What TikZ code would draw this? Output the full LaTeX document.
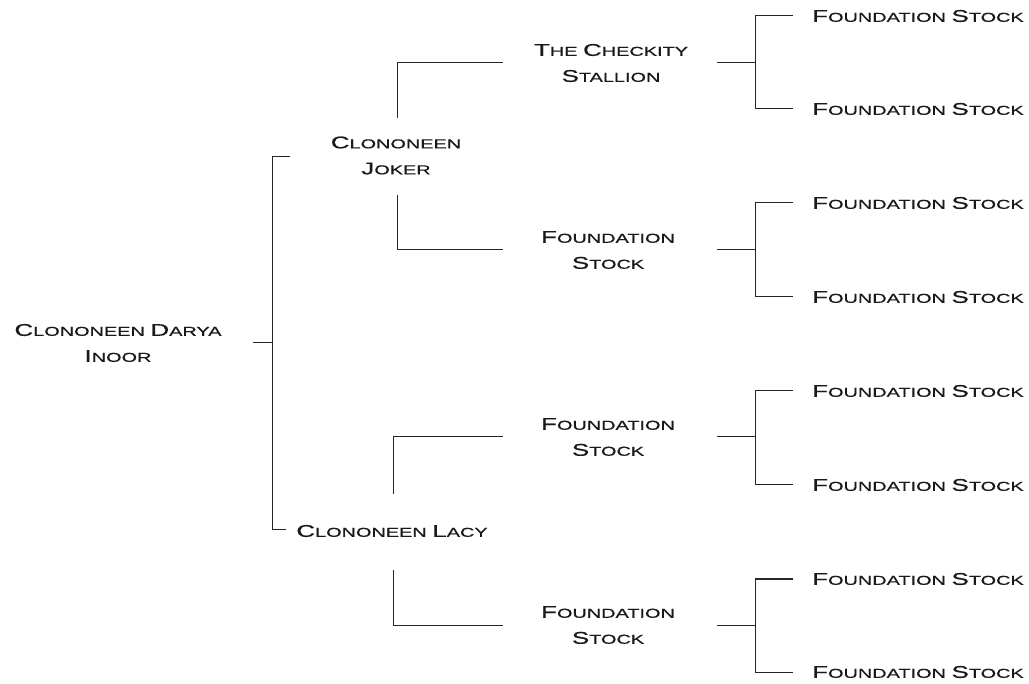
\documentclass[tikz,border=0pt]{standalone}
\usepackage{fontspec}
\newfontfamily\cpfont[FakeStretch=1.53,FakeBold=0.5]{Liberation Sans}
\newcommand\BC[1]{{\fontsize{17}{26}\selectfont #1}}
\tikzset{
  lbl/.style={font=\cpfont\fontsize{13}{26}\selectfont, align=center, inner sep=0pt, text=black!90},
  ln/.style={line width=1pt, draw=black!85}
}
\begin{document}
\begin{tikzpicture}[x=1pt,y=-1pt]
\useasboundingbox[fill=white] (0,0) rectangle (1029,684);
% nodes
\node[lbl] (r) at (118,343) {\BC{C}LONONEEN \BC{D}ARYA\\\BC{I}NOOR};
\node[lbl] (j) at (396,155.5) {\BC{C}LONONEEN\\\BC{J}OKER};
\node[lbl] (l) at (392,531) {\BC{C}LONONEEN \BC{L}ACY};
\node[lbl] (jj) at (611,63) {\BC{T}HE \BC{C}HECKITY\\\BC{S}TALLION};
\node[lbl] (jf) at (608,250) {\BC{F}OUNDATION\\\BC{S}TOCK};
\node[lbl] (lf1) at (608,437) {\BC{F}OUNDATION\\\BC{S}TOCK};
\node[lbl] (lf2) at (608,625) {\BC{F}OUNDATION\\\BC{S}TOCK};
\foreach \i/\y in {1/16,2/109,3/203,4/297,5/391,6/485,7/579,8/672}{
  \node[lbl,anchor=west] (g\i) at (812,\y) {\BC{F}OUNDATION \BC{S}TOCK};
}
% connector end points
\coordinate (r-o) at (253,343);
\coordinate (r-v) at (272,343);
\coordinate (r-j) at (290,157);
\coordinate (r-l) at (286,530);
\coordinate (j-u) at (397,118);
\coordinate (j-d) at (397,195);
\coordinate (l-u) at (393,494);
\coordinate (l-d) at (393,570);
\foreach \n/\y in {jj/63,jf/250,lf1/437,lf2/625}{
  \coordinate (\n-i) at (503,\y);
  \coordinate (\n-o) at (717,\y);
  \coordinate (\n-v) at (755,\y);
}
% root
\draw[ln] (r-o) -- (r-v);
\draw[ln] (r-j) -- (r-j -| r-v) -- (r-l -| r-v) -- (r-l);
% joker
\draw[ln] (j-u) -- (j-u |- jj-i) -- (jj-i);
\draw[ln] (j-d) -- (j-d |- jf-i) -- (jf-i);
% lacy
\draw[ln] (l-u) -- (l-u |- lf1-i) -- (lf1-i);
\draw[ln] (l-d) -- (l-d |- lf2-i) -- (lf2-i);
% gen 3
\foreach \n/\a/\b in {jj/g1/g2,jf/g3/g4,lf1/g5/g6,lf2/g7/g8}{
  \draw[ln] (\n-o) -- (\n-v);
  \draw[ln] ([xshift=-19pt]\a.west) -- (\n-v |- \a) -- (\n-v |- \b) -- ([xshift=-19pt]\b.west);
}
\end{tikzpicture}
\end{document}
